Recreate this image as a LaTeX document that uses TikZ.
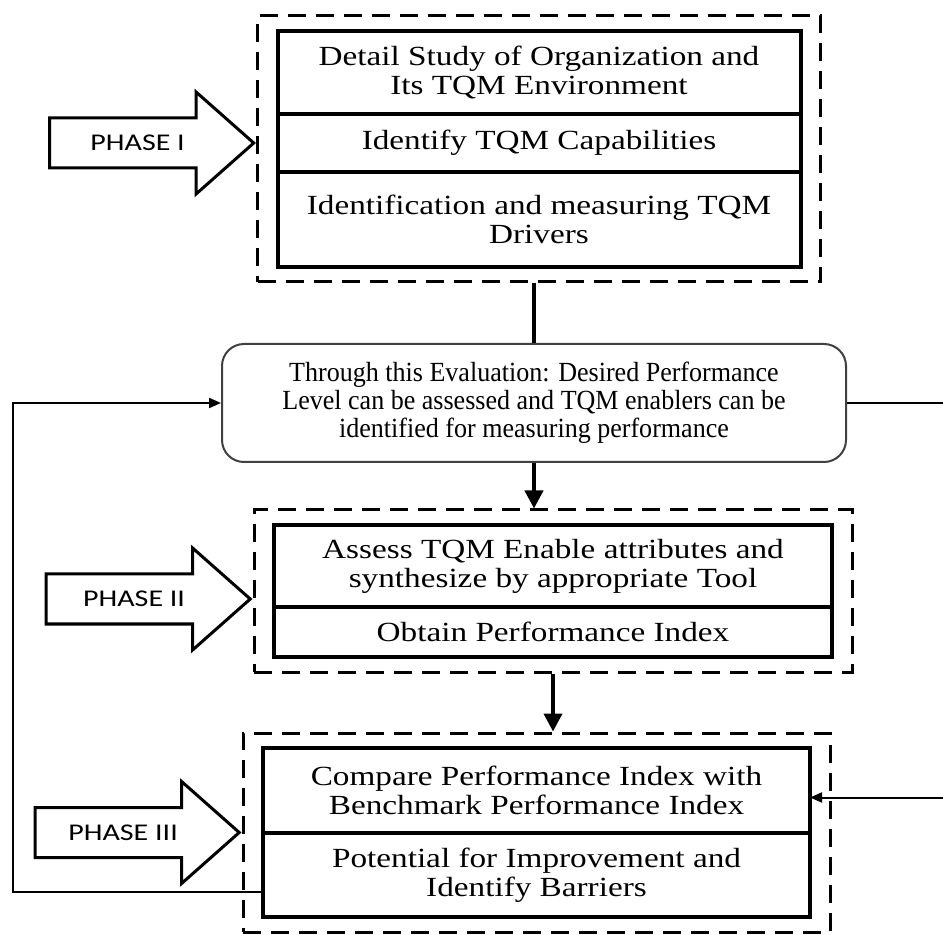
\documentclass[tikz,border=0pt]{standalone}
\usepackage{fontspec}
\setmainfont[FakeStretch=1.2]{Liberation Serif}
\newfontfamily\evalfont[FakeStretch=0.94]{Liberation Serif}
\newfontfamily\phasefont[FakeStretch=1.25]{Carlito}
\usetikzlibrary{positioning,arrows.meta,fit,shapes.arrows}

\begin{document}
\begin{tikzpicture}[
  x=0.5pt,y=-0.5pt,
  stage/.style={draw,line width=2pt,outer sep=0pt,inner sep=1pt,align=center,font=\fontsize{13.85}{14.5}\selectfont},
  frame/.style={draw,line width=1.5pt,dash pattern=on 9pt off 5pt,inner xsep=10pt,inner ysep=7.5pt},
  phase/.style={draw,line width=1.5pt,shape=single arrow,single arrow head extend=13pt,single arrow tip angle=83,
    minimum height=102pt,inner ysep=8pt,text height=7.5pt,text depth=0pt,font=\phasefont\fontsize{12}{12}\selectfont},
  evalbox/.style={draw=black!75,line width=1pt,rounded corners=11pt,minimum width=312pt,minimum height=59pt,
    align=center,font=\evalfont\fontsize{13.85}{14}\selectfont},
  link/.style={line width=2pt},
  back/.style={line width=1pt,-{Triangle[length=6pt,width=5pt]}},
  >={Triangle[length=9pt,width=9pt]}
]
\useasboundingbox (0,0) rectangle (943,935);
% --- phase I ---
\node[stage,minimum width=261.5pt,minimum height=41.5pt] (a1) at (539,72.5) {Detail Study of Organization and\\Its TQM Environment};
\node[stage,minimum width=261.5pt,minimum height=29pt,below=0pt of a1] (a2) {Identify TQM Capabilities};
\node[stage,minimum width=261.5pt,minimum height=47.5pt,below=0pt of a2] (a3) {Identification and measuring TQM\\Drivers};
\node[frame,fit=(a1)(a3)] (p1) {};
\node[phase,anchor=tip] (ph1) at (p1.west |- a2.west) {PHASE I};
% --- evaluation ---
\node[evalbox] (eval) at (534,403) {Through this Evaluation: Desired Performance\\Level can be assessed and TQM enablers can be\\identified for measuring performance};
% --- phase II ---
\node[stage,minimum width=279pt,minimum height=41pt] (b1) at (553,566) {Assess TQM Enable attributes and\\synthesize by appropriate Tool};
\node[stage,minimum width=279pt,minimum height=25pt,below=0pt of b1] (b2) {Obtain Performance Index};
\node[frame,fit=(b1)(b2)] (p2) {};
\node[phase,anchor=tip] (ph2) at ([yshift=-4pt]p2.west) {PHASE II};
% --- phase III ---
\node[stage,minimum width=273.5pt,minimum height=42.5pt] (c1) at (536.5,790.5) {Compare Performance Index with\\Benchmark Performance Index};
\node[stage,minimum width=273.5pt,minimum height=42pt,below=0pt of c1] (c2) {Potential for Improvement and\\Identify Barriers};
\node[frame,fit=(c1)(c2)] (p3) {};
\node[phase,anchor=tip] (ph3) at (p3.west) {PHASE III};
% links
\coordinate (edge) at (943,0);
\draw[link] (p1.south -| eval.north) -- (eval.north);
\draw[link,->] (eval.south) -- (eval.south |- p2.north);
\draw[link,->] (p2.south) -- (p2.south |- p3.north);
\draw[back] ([yshift=-8.5pt]c2.west) -- ++(-125pt,0) |- (eval.west);
\draw[line width=1pt] (eval.east) -- (eval.east -| edge);
\draw[back] ([yshift=-3.5pt]c1.east -| edge) -- ([yshift=-3.5pt]c1.east);
\end{tikzpicture}
\end{document}
